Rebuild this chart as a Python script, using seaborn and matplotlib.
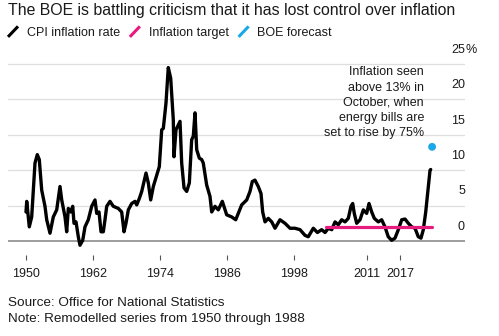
import matplotlib
matplotlib.use("Agg")
import matplotlib.pyplot as plt
import matplotlib.transforms as mtransforms
from matplotlib.lines import Line2D
from matplotlib.legend_handler import HandlerBase
import seaborn as sns
import pandas as pd

# UK CPI inflation rate, % (remodelled series 1950-1988)
cpi_year = [
    1950.00, 1950.13, 1950.59, 1951.02, 1951.61, 1952.02, 1952.38, 1952.81,
    1953.40, 1953.71, 1954.30, 1954.89, 1955.50, 1956.09, 1956.40, 1956.99,
    1957.29, 1957.58, 1958.01, 1958.37, 1958.60, 1958.96, 1959.37, 1959.67,
    1960.16, 1960.57, 1961.16, 1961.77, 1962.36, 1962.67, 1963.08, 1963.44,
    1963.85, 1964.15, 1964.46, 1965.05, 1965.64, 1966.54, 1967.14, 1967.56,
    1967.91, 1968.33, 1968.94, 1969.53, 1969.83, 1970.30, 1970.73, 1971.50,
    1971.91, 1972.34, 1972.81, 1973.41, 1973.88, 1974.31, 1974.60, 1975.08,
    1975.49, 1975.92, 1976.39, 1976.51, 1976.87, 1977.28, 1977.59, 1977.89,
    1978.31, 1978.79, 1979.26, 1979.68, 1979.97, 1980.28, 1980.58, 1981.05,
    1981.48, 1981.76, 1982.37, 1982.96, 1983.27, 1983.86, 1984.45, 1985.17,
    1985.95, 1986.85, 1987.57, 1988.03, 1988.64, 1989.54, 1990.13, 1990.54,
    1991.02, 1991.61, 1992.10, 1992.40, 1992.82, 1993.41, 1994.02, 1994.61,
    1995.50, 1996.40, 1997.30, 1998.19, 1999.09, 1999.98, 2000.57, 2001.47,
    2002.20, 2002.97, 2003.57, 2004.16, 2004.77, 2005.36, 2005.95, 2006.56,
    2007.15, 2007.74, 2008.22, 2008.53, 2008.81, 2009.24, 2009.84, 2010.43,
    2011.03, 2011.45, 2011.93, 2012.40, 2013.11, 2013.72, 2014.31, 2014.90,
    2015.51, 2016.10, 2016.70, 2017.31, 2017.90, 2018.49, 2019.10, 2019.69,
    2020.28, 2020.76, 2021.18, 2021.61, 2022.07, 2022.38, 2022.50,
]
cpi_rate = [
    4.1, 5.6, 2.0, 3.4, 11.0, 12.2, 11.5, 7.2,
    4.9, 3.0, 1.1, 3.4, 4.4, 7.7, 5.8, 3.4,
    1.3, 4.6, 4.1, 4.9, 2.5, 2.7, 0.6, -0.6,
    0.1, 2.0, 3.0, 4.9, 5.8, 3.9, 4.1, 1.3,
    1.3, 3.0, 4.9, 5.6, 4.9, 4.6, 4.1, 1.3,
    2.5, 4.4, 5.3, 5.6, 5.1, 6.0, 7.0, 9.6,
    8.2, 5.8, 7.7, 9.3, 10.5, 15.7, 15.9, 19.5,
    24.5, 23.0, 17.1, 11.9, 15.7, 16.4, 16.9, 11.0,
    7.5, 7.0, 8.2, 14.3, 14.8, 18.1, 12.9, 11.7,
    11.5, 11.0, 7.9, 6.3, 4.1, 4.9, 4.4, 5.6,
    3.7, 3.4, 3.0, 3.9, 5.1, 5.8, 7.0, 8.4,
    8.6, 7.7, 6.7, 4.1, 2.7, 3.2, 2.7, 1.8,
    3.0, 2.5, 1.8, 1.8, 1.6, 0.8, 0.6, 1.8,
    1.2, 1.6, 1.2, 1.8, 1.6, 2.7, 2.3, 3.0,
    2.7, 3.2, 4.9, 5.3, 3.9, 2.5, 3.0, 4.4,
    3.9, 5.3, 4.1, 3.2, 2.7, 3.0, 2.0, 0.6,
    0.1, 0.4, 1.6, 3.0, 3.1, 2.5, 2.0, 1.8,
    0.6, 0.4, 1.6, 4.1, 7.7, 10.0, 10.1,
]

# Bank of England 2% CPI target
target_year = [2003.7, 2022.8]
target_rate = [2.0, 2.0]

# BOE forecast for October 2022
forecast_year = [2022.75]
forecast_rate = [13.3]

x_ticks = [1950, 1962, 1974, 1986, 1998, 2011, 2017]
y_ticks = [0, 5, 10, 15, 20, 25]

title = "The BOE is battling criticism that it has lost control over inflation"
legend_labels = ["CPI inflation rate", "Inflation target", "BOE forecast"]
note_text = ("Inflation seen\nabove 13% in\nOctober, when\n"
             "energy bills are\nset to rise by 75%")
source_text = "Source: Office for National Statistics"
footnote_text = "Note: Remodelled series from 1950 through 1988"

BLACK = "#000000"
PINK = "#e8197f"
BLUE = "#1ba8e8"
TEXT = "#1a1a1a"

sns.set_theme(style="white")
plt.rcParams["font.family"] = ["Liberation Sans", "DejaVu Sans"]

W, H = 499, 336
fig = plt.figure(figsize=(W / 100, H / 100), dpi=100)
ax = fig.add_axes([8 / W, (H - 255) / H, 457 / W, 195 / H])

cpi = pd.DataFrame({"year": cpi_year, "rate": cpi_rate})
target = pd.DataFrame({"year": target_year, "rate": target_rate})
forecast = pd.DataFrame({"year": forecast_year, "rate": forecast_rate})

# gridlines and zero baseline
for v in y_ticks[1:]:
    ax.axhline(v, color="#dedede", lw=0.9, zorder=0)
ax.axhline(0, color="#8c8c8c", lw=1.2, zorder=1)

sns.lineplot(data=cpi, x="year", y="rate", ax=ax, color=BLACK, lw=2.4,
             zorder=3, legend=False)
sns.lineplot(data=target, x="year", y="rate", ax=ax, color=PINK, lw=2.3,
             zorder=4, legend=False)
sns.scatterplot(data=forecast, x="year", y="rate", ax=ax, color=BLUE, s=32,
                edgecolor="none", zorder=5, legend=False)

ax.set_xlim(1946.775, 2028.646)
ax.set_ylim(-1.977, 25.565)
ax.set_xlabel("")
ax.set_ylabel("")
for s in ax.spines.values():
    s.set_visible(False)

ax.set_xticks(x_ticks)
ax.set_xticklabels([str(t) for t in x_ticks])
ax.tick_params(axis="x", bottom=True, direction="out", length=3.6, width=0.8,
               color="#555555", pad=5.5, labelsize=9, labelcolor=TEXT)
ax.set_yticks([])

# value labels sit just above their gridlines on the right
trans = mtransforms.blended_transform_factory(ax.transAxes, ax.transData)
for v in y_ticks:
    ax.text(1.0, v + 2.0, str(v), transform=trans, ha="right", va="center",
            fontsize=9, color=TEXT)
ax.text(1.0, y_ticks[-1] + 2.0, "%", transform=trans, ha="left", va="center",
        fontsize=9, color=TEXT)

ax.text(2021.3, 19.5, note_text, ha="right", va="center", fontsize=9,
        linespacing=1.36, multialignment="right", color=TEXT)


class SlashHandler(HandlerBase):
    def create_artists(self, legend, orig_handle, xdescent, ydescent,
                       width, height, fontsize, trans):
        x0, y0 = -xdescent, -ydescent
        line = Line2D([x0, x0 + width], [y0 - 0.1 * height, y0 + 1.1 * height],
                      color=orig_handle.get_color(),
                      lw=orig_handle.get_linewidth(),
                      solid_capstyle="butt", transform=trans)
        return [line]


handles = [Line2D([], [], color=c, lw=2.2) for c in (BLACK, PINK, BLUE)]
fig.legend(handles, legend_labels, handler_map={Line2D: SlashHandler()},
           loc="upper left", bbox_to_anchor=(8 / W, 1 - 27 / H), ncol=3,
           frameon=False, fontsize=9, handlelength=0.8, handletextpad=0.7,
           columnspacing=0.8, borderpad=0, borderaxespad=0,
           labelcolor=TEXT)

fig.text(8 / W, 1 - 10 / H, title, fontsize=11.4, ha="left", va="center",
         color=TEXT)
fig.text(8 / W, 1 - 303 / H, source_text, fontsize=9.7, ha="left",
         va="center", color=TEXT)
fig.text(8 / W, 1 - 319 / H, footnote_text, fontsize=9.7, ha="left",
         va="center", color=TEXT)

fig.savefig("out.png", dpi=100)
